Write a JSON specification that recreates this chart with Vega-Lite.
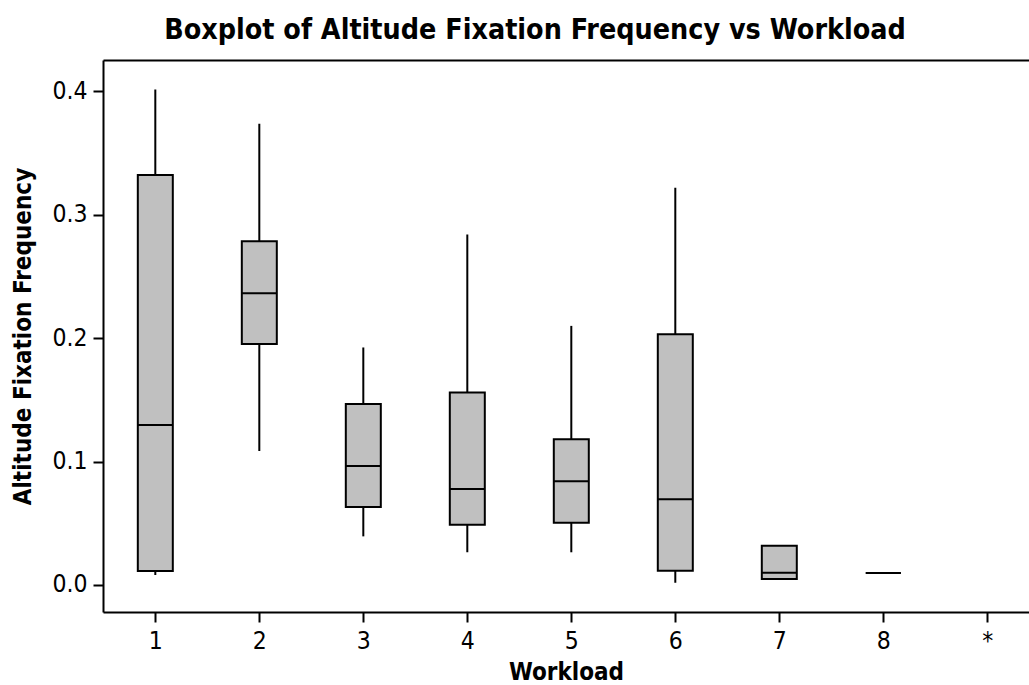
{
  "$schema": "https://vega.github.io/schema/vega-lite/v6.json",
  "autosize": "none",
  "width": 926,
  "height": 552,
  "padding": {"left": 103, "top": 60, "right": 0, "bottom": 73},
  "background": "white",
  "title": {
    "text": "Boxplot of Altitude Fixation Frequency vs Workload",
    "font": "DejaVu Sans Condensed, DejaVu Sans",
    "fontSize": 28.4,
    "fontWeight": "bold",
    "color": "black",
    "anchor": "middle",
    "baseline": "alphabetic",
    "dx": -31,
    "offset": -7
  },
  "config": {
    "view": {"stroke": null},
    "font": "DejaVu Sans Condensed, DejaVu Sans",
    "axis": {
      "grid": false,
      "domainColor": "black",
      "domainWidth": 2,
      "tickColor": "black",
      "tickWidth": 2,
      "tickSize": 10,
      "labelColor": "black",
      "labelFont": "DejaVu Sans Condensed, DejaVu Sans",
      "labelFontSize": 24.5,
      "titleColor": "black",
      "titleFont": "DejaVu Sans Condensed, DejaVu Sans",
      "titleFontSize": 24,
      "titleFontWeight": "bold"
    }
  },
  "data": {
    "values": [
      {"Workload": 1, "lower": 0.0081, "q1": 0.0113, "median": 0.1296, "q3": 0.3322, "upper": 0.4016},
      {"Workload": 2, "lower": 0.1085, "q1": 0.1954, "median": 0.2364, "q3": 0.2785, "upper": 0.3738},
      {"Workload": 3, "lower": 0.0394, "q1": 0.0632, "median": 0.0964, "q3": 0.1466, "upper": 0.1925},
      {"Workload": 4, "lower": 0.0265, "q1": 0.0488, "median": 0.0777, "q3": 0.156, "upper": 0.284},
      {"Workload": 5, "lower": 0.0265, "q1": 0.0505, "median": 0.084, "q3": 0.1182, "upper": 0.21},
      {"Workload": 6, "lower": 0.0019, "q1": 0.0116, "median": 0.0694, "q3": 0.2032, "upper": 0.322},
      {"Workload": 7, "lower": 0.0049, "q1": 0.0049, "median": 0.01, "q3": 0.0318, "upper": 0.0318},
      {"Workload": 8, "lower": 0.0097, "q1": 0.0097, "median": 0.0097, "q3": 0.0097, "upper": 0.0097}
    ]
  },
  "resolve": {"axis": {"x": "independent"}},
  "layer": [
    {
      "mark": {"type": "rule", "stroke": "black", "strokeWidth": 2},
      "encoding": {
        "x": {
          "field": "Workload",
          "type": "quantitative",
          "scale": {"domain": [0.497, 9.401], "nice": false, "zero": false, "padding": 0},
          "axis": {
            "orient": "bottom",
            "values": [1, 2, 3, 4, 5, 6, 7, 8, 9],
            "labelExpr": "datum.value == 9 ? '*' : datum.label",
            "labelPadding": 7,
            "labelFlush": false,
            "labelOverlap": false,
            "title": "Workload",
            "titlePadding": 8
          }
        },
        "y": {
          "field": "lower",
          "type": "quantitative",
          "scale": {"domain": [-0.0219, 0.4255], "nice": false, "zero": false, "padding": 0},
          "axis": {
            "values": [0, 0.1, 0.2, 0.3, 0.4],
            "format": ".1f",
            "labelPadding": 6,
            "title": "Altitude Fixation Frequency",
            "titlePadding": 16
          }
        },
        "y2": {"field": "upper"}
      }
    },
    {
      "mark": {"type": "bar", "size": 35, "fill": "#c0c0c0", "stroke": "black", "strokeWidth": 2, "opacity": 1},
      "encoding": {
        "x": {
          "field": "Workload",
          "type": "quantitative",
          "axis": {"orient": "top", "labels": false, "ticks": false, "title": null, "domain": true}
        },
        "y": {"field": "q1", "type": "quantitative", "title": "Altitude Fixation Frequency"},
        "y2": {"field": "q3"}
      }
    },
    {
      "mark": {"type": "tick", "orient": "horizontal", "size": 35, "thickness": 2, "color": "black", "opacity": 1},
      "encoding": {
        "x": {"field": "Workload", "type": "quantitative", "axis": null},
        "y": {"field": "median", "type": "quantitative", "title": "Altitude Fixation Frequency"}
      }
    }
  ]
}
